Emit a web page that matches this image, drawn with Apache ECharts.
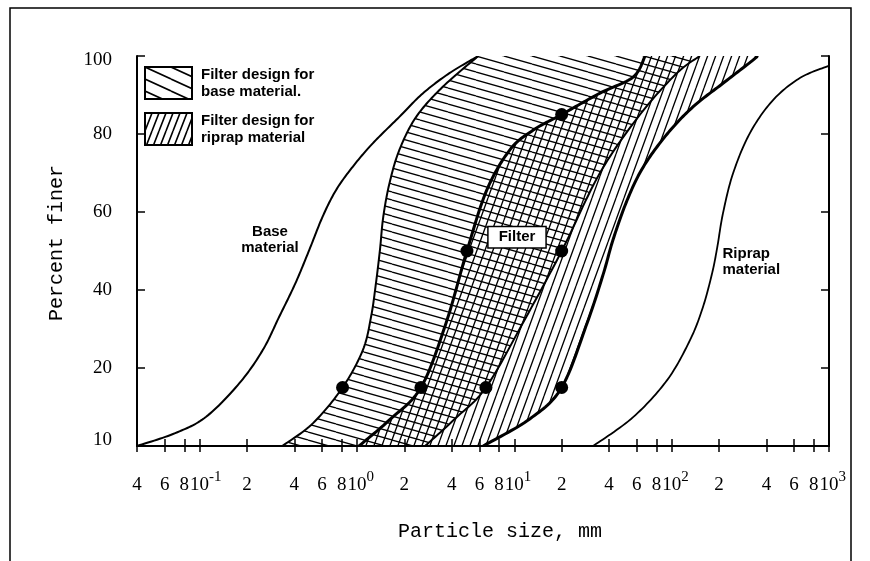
<!DOCTYPE html>
<html><head><meta charset="utf-8">
<script src="https://cdn.jsdelivr.net/npm/echarts@6/dist/echarts.min.js"></script>
<style>html,body{margin:0;padding:0;background:#fff}#c{width:870px;height:561px}</style>
</head><body><div id="c"></div>
<script>
// ---- data: [particle size (mm), percent finer] ----
const baseMaterial = [[0.04,0],[0.07,3.3],[0.110,7.5],[0.179,16.1],[0.252,24.6],[0.321,33.2],[0.406,41.7],[0.498,50.3],[0.605,58.8],[0.736,65.6],[0.94,71.6],[1.26,77.6],[1.86,84.4],[2.62,90.4],[3.87,95.6],[5.9,100]];
const baseFilterFine = [[0.335,0],[0.524,5.8],[0.81,15],[1.09,24.6],[1.23,33.2],[1.32,41.7],[1.40,50.3],[1.47,58.8],[1.61,67.4],[1.86,75.9],[2.38,84.4],[3.51,92.1],[5.9,100]];
const filterFine = [[1.03,0],[1.61,6.7],[2.55,15],[3.68,31.5],[5.0,50],[6.68,65.6],[9.4,76],[13.2,81],[20,85],[35.1,90.5],[56.9,94.6],[67.8,100]];
const filterCoarse = [[2.71,0],[4.2,7],[6.6,15],[11.5,32],[20,50],[35,70],[63,85],[108,95.6],[151,100]];
const riprapFilterCoarse = [[6.34,0],[12.6,7],[20,15],[29,31.5],[36.7,44],[42.5,53],[52.1,63],[65.9,71.5],[93.6,80],[137,87],[212,93],[330,99],[349,100]];
const riprapMaterial = [[31.7,0],[56.9,7.4],[93.6,16.9],[131,27.2],[158,35.6],[181,44.4],[195,51],[212,59.7],[246,70],[315,80.3],[441,88.7],[656,94.4],[1000,97.5]];
const pointSizes = [0.81, 2.55, 6.6, 20, 5.0, 20, 20];
const pointPercents = [15, 15, 15, 15, 50, 50, 85];
const xTickValues = [0.04,0.06,0.08,0.1,0.2,0.4,0.6,0.8,1,2,4,6,8,10,20,40,60,80,100,200,400,600,800,1000];
const xTickLabels = ['4','6','8','10^-1','2','4','6','8','10^0','2','4','6','8','10^1','2','4','6','8','10^2','2','4','6','8','10^3'];
const yTickValues = [0,20,40,60,80,100];
const yTickLabels = ['10','20','40','60','80','100'];
const noteTexts = ['Base\nmaterial','Filter','Riprap\nmaterial'];
const notePositions = [[0.28,52.8],[10.4,53.5],[209,47.2]];
const legendNames = ['Filter design for\nbase material.','Filter design for\nriprap material'];

// ---- helpers ----
function hatch(w, h, dir, lw) {
  const c = document.createElement('canvas'); c.width = w; c.height = h;
  const g = c.getContext('2d'); g.strokeStyle = '#000'; g.lineWidth = lw; g.beginPath();
  for (let k = -1; k <= 1; k++) {
    if (dir === 'back') { g.moveTo(0, k*h); g.lineTo(w, k*h + h); }
    else { g.moveTo(k*w, h); g.lineTo(k*w + w, 0); }
  }
  g.stroke();
  return {image: c, repeat: 'repeat'};
}
const patBase = hatch(28, 8, 'back', 1.3);
const patRip = hatch(8, 22, 'fwd', 1.3);
const patBaseLeg = hatch(26, 12, 'back', 1.6);
const patRipLeg = hatch(7, 18, 'fwd', 1.6);

function smoothPts(P) {
  const out = [];
  const n = P.length;
  for (let i = 0; i < n - 1; i++) {
    const p0 = P[Math.max(i-1,0)], p1 = P[i], p2 = P[i+1], p3 = P[Math.min(i+2,n-1)];
    const N = 16;
    for (let s = 0; s < N; s++) {
      const t = s / N, t2 = t*t, t3 = t2*t;
      const f = (a,b,c,d) => 0.5*((2*b) + (-a+c)*t + (2*a-5*b+4*c-d)*t2 + (-a+3*b-3*c+d)*t3);
      out.push([f(p0[0],p1[0],p2[0],p3[0]), f(p0[1],p1[1],p2[1],p3[1])]);
    }
  }
  out.push(P[n-1].slice());
  return out;
}
function bandSeries(name, left, right, pattern) {
  return {
    type: 'custom', name: name, clip: true, z: 1, silent: true,
    data: [[1, 50]],
    itemStyle: {color: pattern},
    renderItem: function (params, api) {
      const L = smoothPts(left.map(p => api.coord(p)));
      const R = smoothPts(right.map(p => api.coord(p))).reverse();
      return {type: 'polygon', shape: {points: L.concat(R)}, style: {fill: pattern, stroke: null}};
    }
  };
}
const curves = [baseMaterial, baseFilterFine, filterFine, filterCoarse, riprapFilterCoarse, riprapMaterial];
const curveWidths = [2, 2, 3, 2, 3, 1.8];

function xLabel(value) {
  const i = xTickValues.findIndex(v => Math.abs(v - value) / v < 1e-6);
  const s = i >= 0 ? xTickLabels[i] : '';
  if (s.indexOf('^') >= 0) {
    const e = s.split('^')[1];
    return '{p|' + e + '}{n|10}{s|' + e + '}';
  }
  return '{n|' + s + '}';
}
function yLabel(v) {
  const i = yTickValues.indexOf(v);
  if (i < 0) return '';
  if (i === yTickValues.length - 1) return '{top|' + yTickLabels[i] + '}';
  if (i === 0) return '{bot|' + yTickLabels[i] + '}';
  return yTickLabels[i];
}

const chart = echarts.init(document.getElementById('c'), null, {renderer: 'canvas'});
const serif = 'Liberation Serif';
const xRich = {
  n: {fontFamily: serif, fontSize: 19, lineHeight: 30, color: '#000'},
  s: {fontFamily: serif, fontSize: 15, lineHeight: 12, verticalAlign: 'top', color: '#000'},
  p: {fontFamily: serif, fontSize: 15, lineHeight: 12, verticalAlign: 'top', color: 'rgba(0,0,0,0)'}
};
chart.setOption({
  animation: false,
  backgroundColor: '#fff',
  grid: {left: 137, right: 41, top: 56, bottom: 115},
  legend: {
    orient: 'vertical', left: 144, top: 66, padding: 0, itemWidth: 47, itemHeight: 32, itemGap: 12,
    selectedMode: false,
    textStyle: {fontFamily: 'Liberation Sans', fontWeight: 'bold', fontSize: 15, lineHeight: 17, color: '#000', padding: [0,0,0,4]},
    data: [
      {name: legendNames[0], icon: 'rect', itemStyle: {color: patBaseLeg, borderColor: '#000', borderWidth: 2}},
      {name: legendNames[1], icon: 'rect', itemStyle: {color: patRipLeg, borderColor: '#000', borderWidth: 2}}
    ]
  },
  xAxis: [{
    type: 'log', logBase: 10, min: 0.04, max: 1000.0001, position: 'bottom',
    name: 'Particle size, mm', nameLocation: 'middle', nameGap: 76,
    nameTextStyle: {fontFamily: 'Liberation Mono', fontSize: 20, color: '#000', padding: [0,0,0,34]},
    axisLine: {show: true, lineStyle: {color: '#000', width: 2}},
    axisTick: {show: true, inside: true, length: 7, customValues: xTickValues, lineStyle: {color: '#000', width: 1.5}},
    minorTick: {show: false},
    axisLabel: {customValues: xTickValues.slice(0, -1), margin: 24, formatter: xLabel, color: '#000', hideOverlap: false, rich: xRich},
    splitLine: {show: false}
  }, {
    type: 'log', logBase: 10, min: 0.04, max: 1000.0001, position: 'top',
    axisLine: {show: true, lineStyle: {color: '#000', width: 2}},
    axisTick: {show: true, inside: true, length: 6, customValues: xTickValues, lineStyle: {color: '#000', width: 1.5}},
    axisLabel: {show: false}, splitLine: {show: false}
  }, {
    type: 'log', logBase: 10, min: 0.04, max: 1000.0001, position: 'bottom',
    axisLine: {show: false}, axisTick: {show: false}, splitLine: {show: false},
    axisLabel: {customValues: xTickValues.slice(-1), showMaxLabel: true, margin: 24, formatter: xLabel, color: '#000', rich: xRich}
  }],
  yAxis: [{
    type: 'value', min: 0, max: 100, interval: 20, position: 'left',
    name: 'Percent finer', nameLocation: 'middle', nameGap: 70,
    nameTextStyle: {fontFamily: 'Liberation Mono', fontSize: 20, color: '#000', padding: [0,0,0,16]},
    axisLine: {show: true, lineStyle: {color: '#000', width: 2}},
    axisTick: {show: true, inside: true, length: 8, lineStyle: {color: '#000', width: 1.5}},
    axisLabel: {
      margin: 25, color: '#000', fontFamily: serif, fontSize: 19, formatter: yLabel,
      rich: {
        top: {fontFamily: serif, fontSize: 19, color: '#000', padding: [8,0,0,0]},
        bot: {fontFamily: serif, fontSize: 19, color: '#000', padding: [0,0,12,0]}
      }
    },
    splitLine: {show: false}
  }, {
    type: 'value', min: 0, max: 100, interval: 20, position: 'right',
    axisLine: {show: true, lineStyle: {color: '#000', width: 2}},
    axisTick: {show: true, inside: true, length: 8, lineStyle: {color: '#000', width: 1.5}},
    axisLabel: {show: false}, splitLine: {show: false}
  }],
  series: [
    bandSeries(legendNames[0], baseFilterFine, filterCoarse, patBase),
    bandSeries(legendNames[1], filterFine, riprapFilterCoarse, patRip),
    {
      type: 'custom', clip: true, z: 2, silent: true,
      data: curves.map((c, i) => [1, 50, i]),
      renderItem: function (params, api) {
        const i = api.value(2);
        const pts = smoothPts(curves[i].map(p => api.coord(p)));
        return {type: 'polyline', shape: {points: pts}, style: {stroke: '#000', lineWidth: curveWidths[i], fill: null, lineJoin: 'round'}};
      }
    },
    {
      type: 'scatter', z: 3, silent: true, symbol: 'circle', symbolSize: 13,
      itemStyle: {color: '#000', opacity: 1},
      data: pointSizes.map((s, i) => [s, pointPercents[i]])
    },
    {
      type: 'scatter', z: 4, silent: true, symbolSize: 1, itemStyle: {color: 'rgba(0,0,0,0)', opacity: 1},
      data: notePositions.map((p, i) => ({
        value: p,
        label: i === 1
          ? {show: true, position: 'inside', formatter: noteTexts[i], fontFamily: 'Liberation Sans', fontWeight: 'bold', fontSize: 15, color: '#000', backgroundColor: '#fff', borderColor: '#000', borderWidth: 1.5, padding: [3, 10, 2, 10]}
          : {show: true, position: i === 0 ? 'inside' : 'right', distance: 0, align: i === 0 ? 'center' : 'left', formatter: noteTexts[i], fontFamily: 'Liberation Sans', fontWeight: 'bold', fontSize: 15, lineHeight: 16, color: '#000'}
      }))
    }
  ],
  graphic: [{type: 'polyline', shape: {points: [[10, 561], [10, 8], [851, 8], [851, 561]]}, style: {stroke: '#000', lineWidth: 1.5, fill: null}, silent: true}]
});
</script></body></html>
